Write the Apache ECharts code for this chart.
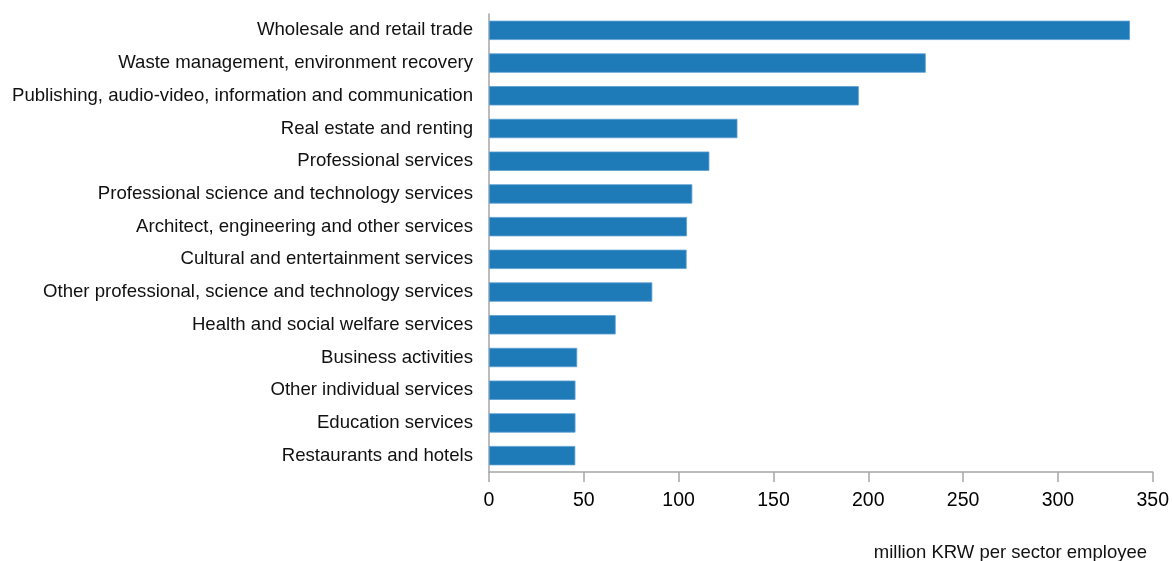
<!DOCTYPE html>
<html>
<head>
<meta charset="utf-8">
<script src="https://cdn.jsdelivr.net/npm/echarts@6/dist/echarts.min.js"></script>
<style>
  html, body { margin: 0; padding: 0; background: #fff; }
  #chart { width: 1172px; height: 561px; }
</style>
</head>
<body>
<div id="chart"></div>
<script>
// sectors, top to bottom
const sectors = [
    'Wholesale and retail trade',
    'Waste management, environment recovery',
    'Publishing, audio-video, information and communication',
    'Real estate and renting',
    'Professional services',
    'Professional science and technology services',
    'Architect, engineering and other services',
    'Cultural and entertainment services',
    'Other professional, science and technology services',
    'Health and social welfare services',
    'Business activities',
    'Other individual services',
    'Education services',
    'Restaurants and hotels'
];
// million KRW per sector employee
const values = [338, 230.3, 195, 131, 116.2, 107.2, 104.4, 104.2, 86.1, 66.8, 46.5, 45.6, 45.6, 45.5];
const unitLabel = 'million KRW per sector employee';

const FONT = '"Liberation Sans", Arial, sans-serif';
const chart = echarts.init(document.getElementById('chart'));

chart.setOption({
    animation: false,
    grid: {
        left: 489,
        right: 19,
        top: 14,
        bottom: 89
    },
    xAxis: {
        type: 'value',
        min: 0,
        max: 350,
        interval: 50,
        axisLine: { show: true, lineStyle: { color: '#a6a6a6', width: 1.5 } },
        axisTick: { show: true, length: 10, inside: false, lineStyle: { color: '#a6a6a6', width: 1.5 } },
        axisLabel: { color: '#000', fontSize: 19.5, fontFamily: FONT, margin: 19 },
        splitLine: { show: false }
    },
    yAxis: {
        type: 'category',
        data: sectors,
        inverse: true,
        axisLine: { show: true, lineStyle: { color: '#a6a6a6', width: 1.5 } },
        axisTick: { show: false },
        axisLabel: { color: '#111', fontSize: 18.6, fontFamily: FONT, margin: 16, padding: [3, 0, 0, 0] }
    },
    series: [{
        type: 'bar',
        data: values,
        barCategoryGap: '41%',
        itemStyle: {
            color: '#1f7ab8',
            borderColor: '#5a9ed3',
            borderWidth: 0.8
        }
    }],
    graphic: [{
        type: 'text',
        right: 25,
        top: 543,
        style: {
            text: unitLabel,
            fill: '#111',
            font: '18.5px ' + FONT
        }
    }]
});
</script>
</body>
</html>
